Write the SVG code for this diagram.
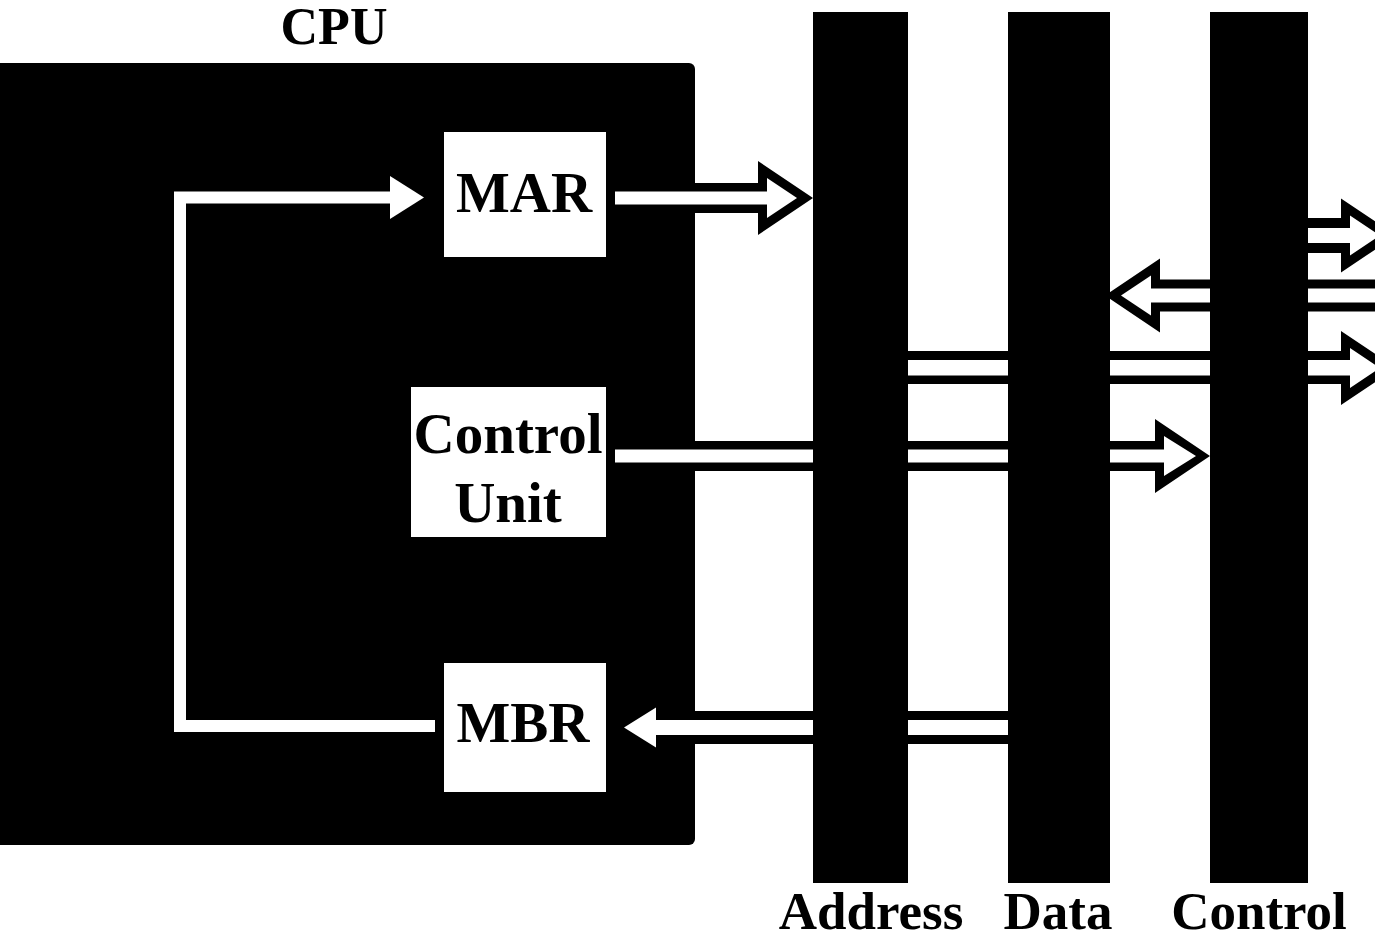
<svg xmlns="http://www.w3.org/2000/svg" width="1375" height="942" viewBox="0 0 1375 942">
<style>
text{font-family:"Liberation Serif","Times New Roman",serif;font-weight:bold;fill:#000;text-anchor:middle}
.blk{fill:#000}
.reg{fill:#fff}
.ao{fill:#000}
.ai{fill:#fff}
.fb{fill:none;stroke:#fff;stroke-width:12;stroke-linejoin:miter}
.lbl{font-size:53px}
.rt{font-size:57px}
</style>
<rect width="1375" height="942" fill="#fff"/>
<g id="cpu">
<rect class="blk" x="-6" y="63" width="701" height="782" rx="6"/>
<text x="334" y="44" font-size="52">CPU</text>
</g>
<g id="connectors">
<polyline class="fb" points="435,726 180,726 180,197.5 392,197.5"/>
<polygon class="ai" points="390,176 424,197.5 390,219"/>
<g id="mar-to-address">
<polygon class="ao" points="615,183 758,183 758,161 813,198 758,235 758,213 615,213"/>
<polygon class="ai" points="615,191.5 767,191.5 767,178 797,198 767,218 767,204.5 615,204.5"/>
</g>
<g id="cu-to-control">
<polygon class="ao" points="615,441 1155,441 1155,419 1210,456 1155,493 1155,471 615,471"/>
<polygon class="ai" points="615,449.5 1164,449.5 1164,436 1196,456 1164,476 1164,462.5 615,462.5"/>
</g>
<g id="data-to-mbr">
<polygon class="ao" points="1008,711 665,711 665,690.5 610,727.5 665,764.5 665,744 1008,744"/>
<polygon class="ai" points="1008,720 656,720 656,707.5 624,727.5 656,747.5 656,735 1008,735"/>
</g>
<g id="ext-to-data">
<polygon class="ao" points="1380,279.5 1160,279.5 1160,258.5 1105,295.5 1160,332.5 1160,311.5 1380,311.5"/>
<polygon class="ai" points="1380,288.5 1151,288.5 1151,275.5 1121,295.5 1151,315.5 1151,302.5 1380,302.5"/>
</g>
<g id="control-to-ext">
<polygon class="ao" points="1300,218 1341,218 1341,198.5 1396,235.5 1341,272.5 1341,253 1300,253"/>
<polygon class="ai" points="1300,228 1350,228 1350,215.5 1380,235.5 1350,255.5 1350,243 1300,243"/>
</g>
<g id="address-to-ext">
<polygon class="ao" points="900,351 1341,351 1341,331 1396,368 1341,405 1341,384 900,384"/>
<polygon class="ai" points="900,360 1350,360 1350,348 1380,368 1350,388 1350,375.5 900,375.5"/>
</g>
</g>
<g id="address-bus">
<rect class="blk" x="813" y="12" width="95" height="871"/>
<text class="lbl" x="871" y="929">Address</text>
</g>
<g id="data-bus">
<rect class="blk" x="1008" y="12" width="102" height="871"/>
<text class="lbl" x="1058" y="929">Data</text>
</g>
<g id="control-bus">
<rect class="blk" x="1210" y="12" width="98" height="871"/>
<text class="lbl" x="1259" y="929">Control</text>
</g>
<g id="mar">
<rect class="reg" x="444" y="132" width="162" height="125"/>
<text class="rt" x="524" y="212">MAR</text>
</g>
<g id="control-unit">
<rect class="reg" x="411" y="387" width="195" height="150"/>
<text class="rt" x="508" y="453">Control</text>
<text class="rt" x="508" y="522">Unit</text>
</g>
<g id="mbr">
<rect class="reg" x="444" y="663" width="162" height="129"/>
<text class="rt" x="523" y="742">MBR</text>
</g>
</svg>
